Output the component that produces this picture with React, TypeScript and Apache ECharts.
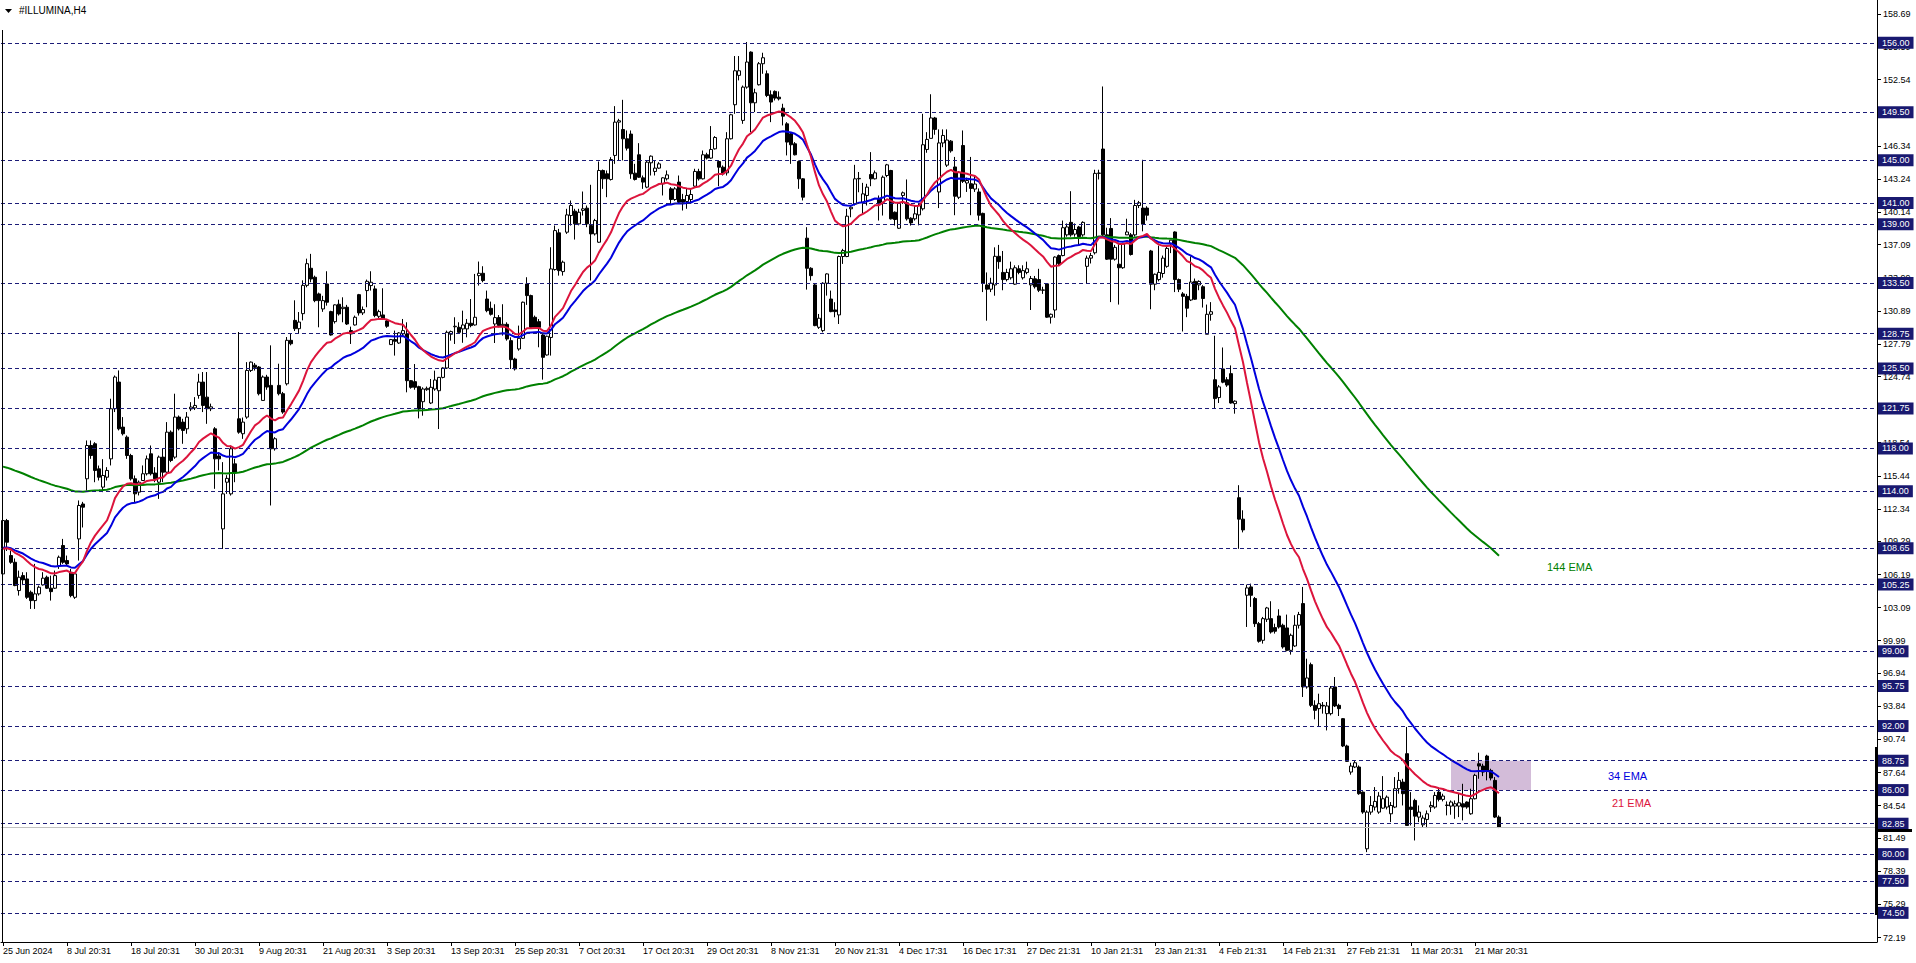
import React, { useEffect, useRef } from "react";
import * as echarts from "echarts";

// [open, close, low, high] per H4 bar
const BARS_JUN_AUG: number[][] = [
  [106.25,111.25,105.5,111.9],[111.25,109.22,108.4,111.4],[107.97,107.34,107.2,108.44],[107.34,105.16,105.1,107.7],
  [104.69,105.94,104.22,106.56],[106.09,105.69,105.2,106.41],[105.78,104.06,103.91,106.41],[104.53,103.75,102.97,104.69],
  [103.75,104.38,102.97,107.19],[104.38,105.0,104.22,105.16],[105.22,105.85,105.16,106.41],[105.94,104.91,104.84,106.09],
  [104.91,104.59,103.75,106.09],[104.91,106.09,104.84,106.56],[107.03,107.81,106.72,107.97],[108.91,107.34,107.19,109.53],
  [107.5,107.19,107.03,107.97],[106.41,104.22,104.06,106.72],[104.06,106.25,103.91,106.41],[109.53,112.66,107.5,113.13],
  [112.8,112.5,110.6,113.0],[115.16,118.28,114.06,118.75],[118.28,117.34,117.03,118.75],[118.44,115.94,114.84,118.59],
  [116.09,115.31,115.0,116.4],[114.38,115.47,113.91,117.0],[115.31,115.94,115.0,116.25],[117.03,121.72,116.41,122.66],
  [121.72,124.69,121.41,124.84],[124.22,119.84,119.69,125.31],[120.0,119.38,119.22,120.94],[119.06,117.34,117.03,119.22],
  [117.34,115.16,115.0,117.5],[115.16,113.75,112.97,115.47],[113.91,114.84,113.6,115.0],[115.0,115.63,115.0,116.41],
  [115.63,117.03,115.47,117.34],[117.5,115.63,115.47,118.28],[115.7,115.16,114.84,116.25],[114.84,117.19,113.28,117.34],
  [117.19,115.78,114.84,117.97],[115.78,119.53,115.63,120.47],[119.53,116.88,116.72,119.69],[117.19,120.94,117.03,123.13],
  [120.94,119.84,119.69,121.09],[120.47,119.69,118.44,120.78],[119.84,120.94,119.38,121.41],[121.7,121.88,121.5,122.34],
  [121.8,122.03,121.6,122.81],[122.97,124.22,122.66,125.0],[124.22,122.03,121.41,125.16],[122.81,121.72,120.31,125.16],
  [121.72,121.9,121.5,122.2],[119.84,117.03,114.22,120.0],[117.3,117.03,115.94,117.66],[110.47,113.75,108.59,116.72],
  [114.84,115.2,113.75,115.5],[113.75,117.97,113.59,118.28],[116.56,115.78,114.84,117.03],[120.78,119.53,119.38,128.91],
  [119.38,120.47,118.9,120.9],[120.94,125.31,120.78,126.09],[125.31,126.09,125.16,126.15],[125.8,125.6,125.3,126.0],
  [125.63,123.13,122.97,125.72],[122.5,124.69,122.5,124.84],[124.69,123.75,123.5,124.9],[123.91,117.97,112.66,127.66],
  [117.97,118.91,117.8,119.06],[123.91,123.13,122.97,125.94],[123.13,121.41,121.25,123.3],[124.06,128.13,123.9,128.44],
  [128.13,127.81,127.66,128.75],[130.0,129.22,129.0,131.88],[129.22,129.84,128.75,130.78],[130.63,133.28,130.0,133.75],
  [133.28,135.31,133.1,135.78]
];
const BARS_SEP_OCT: number[][] = [
  [134.88,133.88,133.57,136.23],[134.04,131.85,131.7,134.19],[132.48,131.85,129.35,132.6],[131.07,131.85,130.8,132.3],
  [133.41,131.7,131.38,134.6],[130.82,128.63,128.57,130.9],[129.88,131.45,129.7,131.5],[131.51,130.6,130.45,131.94],
  [131.1,131.23,129.82,132.16],[131.23,129.66,129.57,131.45],[129.04,128.73,127.79,129.41],[129.57,130.29,129.51,130.45],
  [132.41,130.7,130.45,132.48],[130.7,131.01,130.5,131.3],[132.79,133.66,131.23,133.82],[133.26,133.57,132.79,134.6],
  [132.95,130.45,130.29,133.26],[130.38,130.82,130.2,131.0],[130.51,130.13,130.1,133.01],[129.95,129.45,129.3,130.1],
  [127.73,128.2,127.7,128.26],[128.2,128.04,126.7,129.04],[127.88,128.82,127.8,128.9],[128.73,129.04,128.6,130.13],
  [128.73,124.35,123.26,129.82],[124.35,123.73,123.6,124.4],[124.26,123.73,123.5,125.91],[123.79,121.7,120.82,123.88],
  [122.38,123.57,121.07,123.73],[123.51,123.63,123.4,123.8],[122.26,123.73,122.16,124.51],[123.57,124.41,123.41,125.29],
  [123.41,124.66,119.82,124.7],[124.66,125.54,124.57,125.6],[125.54,128.88,125.45,129.04],[128.7,128.95,128.1,129.04],
  [129.4,129.45,127.79,130.29],[129.35,128.88,128.73,129.82],[129.2,129.57,127.9,130.91],[129.2,129.73,128.41,130.13],
  [129.73,129.51,129.35,132.0],[129.57,130.29,129.51,134.35],[134.19,134.41,133.26,135.51],[134.41,133.73,133.57,135.07],
  [132.0,130.91,130.76,132.79],[131.13,130.57,130.45,131.76],[129.66,130.26,127.88,131.51],[130.26,129.51,129.35,130.5],
  [129.51,129.63,128.57,131.51],[129.63,128.26,128.1,129.82],[128.1,126.32,125.45,128.41],[126.38,125.45,125.3,126.5],
  [127.32,128.32,127.16,129.51],[128.32,131.7,128.26,131.76],[133.41,132.32,131.45,134.04],[132.32,129.35,129.2,132.41],
  [130.29,129.35,129.2,130.45],[129.88,129.35,127.48,130.13],[128.63,126.54,124.45,128.73],[126.76,128.51,126.7,128.57],
  [128.4,134.82,126.7,136.85],[134.76,138.41,134.66,138.88],[138.2,134.66,134.19,138.57],[134.57,135.45,134.19,135.6],
  [138.26,139.88,138.1,140.45],[139.82,140.76,138.88,141.23],[140.23,139.04,137.57,140.45],[139.04,140.13,138.9,140.45],
  [140.3,140.45,139.82,142.07],[140.51,139.04,138.73,140.76],[138.88,138.1,133.73,142.7],[138.1,139.35,137.95,139.51],
  [137.32,144.04,137.26,144.88],[144.04,143.26,142.32,144.13],[143.73,143.26,141.54,144.04],[143.2,145.07,143.1,145.29],
  [145.45,148.57,144.66,150.07]
];
const BARS_OCT_DEC: number[][] = [
  [148.57,148.7,144.98,148.88],[147.88,147.01,144.98,150.66],[147.01,146.13,145.91,147.79],[147.45,143.73,143.26,147.79],
  [143.79,143.2,143.1,144.66],[145.51,143.41,143.35,146.6],[143.35,142.95,142.32,143.57],[142.48,144.82,142.38,144.98],
  [144.76,145.38,143.57,145.45],[143.95,144.26,143.57,144.98],[144.26,144.66,144.2,144.82],[142.79,143.35,141.7,143.41],
  [143.26,143.63,143.1,144.04],[142.32,141.32,140.91,142.48],[141.32,142.32,141.2,142.48],[142.95,141.07,140.91,143.57],
  [141.32,141.07,140.29,141.85],[141.13,141.7,140.45,142.32],[141.32,141.79,141.07,142.32],[142.57,143.95,142.48,144.2],
  [143.95,143.26,143.1,144.2],[143.26,145.51,143.2,145.91],[145.51,145.2,145.07,145.7],[145.2,146.01,145.13,148.2],
  [146.07,147.13,146.0,147.26],[144.88,144.35,142.57,144.98],[144.35,143.73,143.57,144.51],[143.82,147.01,143.57,147.63],
  [147.01,149.26,146.95,149.35],[150.2,153.38,149.35,154.76],[152.95,153.38,152.48,154.76],[148.73,151.85,148.41,152.0],
  [151.85,154.2,151.7,156.07],[155.13,150.38,147.63,155.2],[150.38,151.32,149.51,151.7],[152.07,154.04,152.0,154.2],
  [154.04,154.6,153.1,155.07],[153.1,151.07,150.91,153.41],[151.13,150.45,148.57,151.54],[151.45,150.82,150.6,151.54],
  [150.91,150.75,150.6,151.45],[149.88,149.13,148.26,150.29],[148.41,146.7,145.45,148.57],[147.48,146.45,144.66,147.57],
  [146.54,145.51,145.45,146.7],[144.88,143.26,142.32,144.98],[143.26,141.54,141.23,143.32],[137.7,134.88,132.88,138.73],
  [134.88,134.19,133.73,134.98],[133.32,129.51,129.45,133.41],[129.35,130.2,129.2,130.6],[129.04,133.48,128.88,133.57],
  [133.48,134.35,132.32,134.41],[132.0,130.82,130.76,132.79],[130.98,130.82,130.29,131.7],[130.51,135.98,129.66,136.07],
  [135.98,136.54,135.29,136.7],[135.98,139.76,135.92,140.45],[140.45,140.6,139.66,140.7],[140.91,143.26,140.76,144.57],
  [143.26,143.3,142.0,143.9],[141.07,141.85,140.0,142.88],[141.7,142.48,140.76,142.79],[143.66,143.26,142.57,145.76],
  [143.26,143.82,143.2,144.04],[141.38,140.91,139.35,141.7],[141.07,143.41,139.82,143.57],[143.57,144.57,143.41,144.66],
  [144.04,139.51,139.45,144.1],[140.13,139.45,138.88,140.2],[138.63,141.01,138.57,141.07],[141.7,141.95,140.91,142.07],
  [141.01,139.51,139.35,143.2],[139.57,139.13,138.88,139.66],[139.51,139.98,139.35,140.76],[139.88,140.76,138.9,140.91],
  [140.45,146.45,140.29,149.35],[146.01,146.95,145.7,147.63]
];
const BARS_DEC_FEB: number[][] = [
  [147.05,148.96,147.05,151.18],[148.96,147.89,147.39,149.06],[142.03,146.62,140.52,147.89],[146.62,147.32,146.22,147.89],
  [144.54,146.89,144.37,147.89],[146.79,145.88,145.71,146.89],[144.37,141.63,139.85,145.31],[141.53,143.87,141.36,143.97],
  [146.38,143.03,142.87,147.79],[142.87,143.1,142.03,143.37],[142.8,142.36,139.85,145.31],[142.3,142.77,142.03,143.54],
  [142.03,139.85,139.35,142.36],[140.02,133.49,132.65,140.09],[133.32,132.92,129.97,134.49],[132.92,133.49,132.65,133.99],
  [133.32,136.0,132.31,136.84],[136.0,135.5,134.83,137.07],[134.49,133.82,132.82,136.5],[133.82,134.49,133.65,134.83],
  [133.99,134.83,133.82,135.5],[133.39,134.93,133.32,135.16],[134.83,134.49,134.32,135.16],[133.99,134.66,133.82,135.16],
  [134.49,134.83,134.32,135.5],[133.32,133.92,130.97,134.16],[133.89,133.15,132.98,134.16],[133.82,132.82,132.65,134.83],
  [132.82,132.85,132.48,133.15],[133.42,130.3,130.24,133.49],[130.3,130.57,129.7,130.64],[130.97,135.93,130.24,136.0],
  [136.07,135.33,135.16,136.17],[136.07,138.68,136.0,139.35],[138.01,138.75,137.84,139.08],[139.18,138.01,137.84,142.1],
  [138.08,138.51,137.84,139.08],[138.75,137.84,137.0,138.85],[138.01,139.18,137.84,139.28],[135.06,135.83,133.42,136.07],
  [135.83,136.07,135.33,136.33],[136.33,143.77,136.17,144.11],[143.77,143.8,143.2,144.11],[146.05,138.01,137.84,151.91],
  [138.01,135.73,135.66,138.68],[138.61,135.73,131.71,139.58],[135.73,136.84,135.6,137.07],[135.26,134.93,131.48,137.27],
  [134.93,137.17,134.83,137.27],[138.01,138.28,138.0,139.52],[138.01,136.17,136.07,138.18],[138.01,140.76,137.84,141.29],
  [140.76,141.02,140.52,141.19],[140.52,139.01,138.34,145.04],[140.52,139.85,139.35,140.69],[136.5,133.39,131.04,136.6],
  [133.39,134.32,132.82,134.39],[133.82,134.49,133.65,137.0],[134.39,135.83,134.0,136.07],[135.06,136.74,134.93,136.94],
  [137.17,137.51,136.3,137.51],[138.28,133.82,132.65,138.34],[133.82,132.92,132.65,133.92],[132.48,132.25,128.96,132.65],
  [132.25,131.14,130.3,132.48],[131.91,133.59,131.81,136.0],[133.65,131.98,131.91,133.92],[133.32,133.65,132.82,133.75],
  [133.15,132.05,131.2,133.3],[128.7,130.57,128.7,131.48],[130.57,130.81,129.97,131.71],[124.44,122.67,121.76,128.56],
  [122.77,123.77,122.26,123.94],[125.45,124.21,124.11,127.46],[124.44,123.94,123.77,124.68],[125.01,122.26,122.2,125.78],
  [122.2,122.43,121.26,122.5],[113.39,111.38,108.6,114.56],[111.38,110.37,110.14,112.21]
];
const BARS_FEB_MAR: number[][] = [
  [104.25,104.94,101.28,105.25],[105.03,104.25,103.16,105.34],[103.94,101.59,101.28,104.09],[101.59,99.94,99.81,101.75],
  [100.03,102.06,99.72,102.22],[102.0,103.06,101.75,103.16],[102.06,100.81,100.66,103.69],[101.22,100.88,100.66,101.59],
  [102.31,101.28,101.13,102.94],[101.44,99.41,99.25,101.59],[101.19,99.09,99.0,102.44],[99.09,100.5,98.69,100.66],
  [99.5,101.44,99.41,102.38],[101.44,102.44,101.13,102.69],[103.47,95.66,94.72,105.03],[95.66,96.5,95.5,98.31],
  [97.75,93.94,93.78,97.94],[93.94,93.47,92.63,94.41],[93.63,94.09,91.91,95.03],[93.94,93.88,93.16,94.25],
  [93.16,93.88,91.59,94.25],[93.16,95.56,93.0,95.75],[95.66,93.88,93.78,96.59],[93.94,93.63,92.94,94.09],
  [92.69,90.13,90.03,92.75],[90.13,88.69,88.63,90.25],[87.69,88.25,87.44,88.56],[88.16,88.56,88.06,88.78],
  [88.16,85.66,85.56,88.31],[85.81,83.94,83.78,85.88],[80.5,83.94,80.19,84.1],[83.94,84.56,83.69,85.44],
  [84.41,84.94,84.09,86.28],[83.94,85.44,83.78,85.81],[84.31,85.19,84.25,87.31],[84.41,85.34,84.19,85.5],
  [83.78,84.56,83.0,84.88],[84.41,86.13,84.31,87.22],[86.13,86.91,85.66,87.69],[86.75,85.66,84.56,87.06],
  [89.41,82.69,82.69,91.91],[84.41,84.19,82.69,85.81],[85.03,83.56,81.28,85.19],[83.47,83.94,83.0,84.56],
  [82.75,83.38,82.53,83.63],[83.25,83.78,82.44,84.09],[84.41,84.56,83.94,84.94],[84.41,85.5,84.25,85.81],
  [85.81,85.13,84.94,86.13],[85.13,85.44,84.94,85.66],[84.6,84.56,83.63,84.94],[84.5,84.88,83.69,85.03],
  [84.5,84.72,83.31,85.03],[84.5,84.81,83.47,85.66],[84.72,84.41,83.16,86.59],[84.88,84.41,84.25,84.94],
  [83.78,85.19,83.69,86.13],[85.19,87.38,85.13,87.53],[88.47,88.25,87.06,89.5],[88.25,87.69,87.31,88.47],
  [89.19,87.84,86.91,89.31],[87.84,87.13,86.91,88.0],[86.91,83.47,83.38,87.22],[83.47,82.53,82.44,83.63]
];

const TIME_LABELS = [
  "25 Jun 2024", "8 Jul 20:31", "18 Jul 20:31", "30 Jul 20:31", "9 Aug 20:31", "21 Aug 20:31",
  "3 Sep 20:31", "13 Sep 20:31", "25 Sep 20:31", "7 Oct 20:31", "17 Oct 20:31", "29 Oct 20:31",
  "8 Nov 21:31", "20 Nov 21:31", "4 Dec 17:31", "16 Dec 17:31", "27 Dec 21:31", "10 Jan 21:31",
  "23 Jan 21:31", "4 Feb 21:31", "14 Feb 21:31", "27 Feb 21:31", "11 Mar 20:31", "21 Mar 20:31"
];
const BARS_PER_LABEL = 16;

const PRICE_TICKS = [
  158.69, 155.59, 152.54, 149.44, 146.34, 143.24, 140.14, 137.09, 133.99, 130.89, 127.79, 124.74,
  121.64, 118.54, 115.44, 112.34, 109.29, 106.19, 103.09, 99.99, 96.94, 93.84, 90.74, 87.64,
  84.54, 81.49, 78.39, 75.29, 72.19
];
const LEVELS = [
  156.0, 149.5, 145.0, 141.0, 139.0, 133.5, 128.75, 125.5, 121.75, 118.0, 114.0, 108.65,
  105.25, 99.0, 95.75, 92.0, 88.75, 86.0, 82.85, 80.0, 77.5, 74.5
];

// EMA starting values read at the first bar
const EMA21_START = 108.6;
const EMA34_START = 108.7;
const EMA144_START = 116.3;

// Resistance zone: bar index range and price band
const ZONE_FROM = 362;
const ZONE_TO = 382;
const ZONE_LOW = 86.0;
const ZONE_HIGH = 88.75;

const SLOT_COUNT = 469;
const Y_MIN = 71.77;
const Y_MAX = 160.01;

const BARS = [...BARS_JUN_AUG, ...BARS_SEP_OCT, ...BARS_OCT_DEC, ...BARS_DEC_FEB, ...BARS_FEB_MAR];
const CLOSES = BARS.map((b) => b[1]);

function ema(closes: number[], period: number, start: number) {
  const k = 2 / (period + 1);
  let e = start;
  return closes.map((c, i) => {
    if (i > 0) e = e + k * (c - e);
    return Math.round(e * 1000) / 1000;
  });
}

const FONT = '"Liberation Sans", Arial, sans-serif';

export default function App() {
  const ref = useRef<HTMLDivElement>(null);
  useEffect(() => {
    const chart = echarts.init(ref.current!, null, { renderer: "svg" });
    const cats = Array.from({ length: SLOT_COUNT }, (_, i) => String(i));
    const isLabel = (i: number) =>
      i % BARS_PER_LABEL === 0 && i / BARS_PER_LABEL < TIME_LABELS.length;
    const e21 = ema(CLOSES, 21, EMA21_START);
    const e34 = ema(CLOSES, 34, EMA34_START);
    const e144 = ema(CLOSES, 144, EMA144_START);
    const lastClose = CLOSES[CLOSES.length - 1];
    const navy = "#191970";

    chart.setOption({
      animation: false,
      backgroundColor: "#ffffff",
      textStyle: { fontFamily: FONT },
      grid: { left: 1, right: 39, top: 0, bottom: 21, containLabel: false },
      xAxis: {
        type: "category",
        data: cats,
        boundaryGap: true,
        axisLine: { show: true, lineStyle: { color: "#000", width: 1 } },
        axisTick: {
          show: true,
          alignWithLabel: true,
          interval: (i: number) => isLabel(i),
          length: 4,
          lineStyle: { color: "#000" },
        },
        axisLabel: {
          interval: (i: number) => isLabel(i),
          formatter: (v: string) => TIME_LABELS[Number(v) / BARS_PER_LABEL] ?? "",
          align: "left",
          fontSize: 9,
          color: "#000",
          margin: 4,
          fontFamily: FONT,
        },
        splitLine: { show: false },
      },
      yAxis: {
        type: "value",
        position: "right",
        min: Y_MIN,
        max: Y_MAX,
        splitLine: { show: false },
        axisLine: { show: true, lineStyle: { color: "#000", width: 1 } },
        axisTick: { show: true, customValues: PRICE_TICKS, length: 4, lineStyle: { color: "#000" } },
        axisLabel: {
          customValues: PRICE_TICKS,
          formatter: (v: number) => v.toFixed(2),
          fontSize: 9,
          color: "#000",
          margin: 6,
          fontFamily: FONT,
        },
      },
      series: [
        {
          type: "line",
          name: "zone",
          data: CLOSES.map(() => null),
          z: 1,
          silent: true,
          markArea: {
            silent: true,
            itemStyle: { color: "rgba(196,166,204,0.75)" },
            data: [[{ xAxis: ZONE_FROM, yAxis: ZONE_HIGH }, { xAxis: ZONE_TO, yAxis: ZONE_LOW }]],
          },
        },
        {
          type: "line",
          name: "levels",
          data: CLOSES.map(() => null),
          z: 2,
          silent: true,
          markLine: {
            silent: true,
            symbol: "none",
            animation: false,
            data: [
              {
                yAxis: lastClose,
                lineStyle: { type: "solid", color: "#c0c0c0", width: 1 },
                label: { show: false },
              },
              ...LEVELS.map((v) => ({ yAxis: v })),
            ],
            lineStyle: { type: [4, 3], color: "#1c1c78", width: 1 },
            label: {
              show: true,
              position: "end",
              distance: 1,
              formatter: (p: any) => Number(p.value).toFixed(2),
              color: "#ffffff",
              backgroundColor: navy,
              padding: [2, 4, 1, 4],
              fontSize: 9,
              fontFamily: FONT,
            },
          },
        },
        {
          type: "candlestick",
          name: "ILLUMINA",
          data: BARS,
          barWidth: 3,
          z: 3,
          itemStyle: {
            color: "#ffffff",
            color0: "#000000",
            borderColor: "#000000",
            borderColor0: "#000000",
            borderWidth: 1,
          },
        },
        {
          type: "line",
          name: "144 EMA",
          data: e144,
          showSymbol: false,
          z: 4,
          lineStyle: { color: "#008000", width: 2 },
        },
        {
          type: "line",
          name: "34 EMA",
          data: e34,
          showSymbol: false,
          z: 4,
          lineStyle: { color: "#0000dd", width: 2 },
        },
        {
          type: "line",
          name: "21 EMA",
          data: e21,
          showSymbol: false,
          z: 5,
          lineStyle: { color: "#dc143c", width: 2 },
        },
      ],
      graphic: [
        { type: "line", shape: { x1: 2.5, y1: 30, x2: 2.5, y2: 942 }, style: { stroke: "#000", lineWidth: 1 }, z: 10 },
        { type: "polygon", shape: { points: [[5, 9], [12, 9], [8.5, 13]] }, style: { fill: "#000" }, z: 10 },
        {
          type: "text",
          left: 19,
          top: 5,
          style: { text: "#ILLUMINA,H4", fill: "#000", font: `10px ${FONT}` },
          z: 10,
        },
        {
          type: "text",
          left: 1547,
          top: 561,
          style: { text: "144 EMA", fill: "#008000", font: `11px ${FONT}` },
          z: 10,
        },
        {
          type: "text",
          left: 1608,
          top: 770,
          style: { text: "34 EMA", fill: "#0000dd", font: `11px ${FONT}` },
          z: 10,
        },
        {
          type: "text",
          left: 1612,
          top: 797,
          style: { text: "21 EMA", fill: "#dc143c", font: `11px ${FONT}` },
          z: 10,
        },
        { type: "rect", shape: { x: 1875, y: 747, width: 3, height: 168 }, style: { fill: "#000" }, z: 10 },
        { type: "rect", shape: { x: 1877, y: 829, width: 35, height: 3 }, style: { fill: "#000" }, z: 9 },
      ],
    });
    return () => chart.dispose();
  }, []);
  return (
    <div
      ref={ref}
      style={{ position: "absolute", left: 0, top: 0, width: 1916, height: 963, background: "#fff" }}
    />
  );
}
